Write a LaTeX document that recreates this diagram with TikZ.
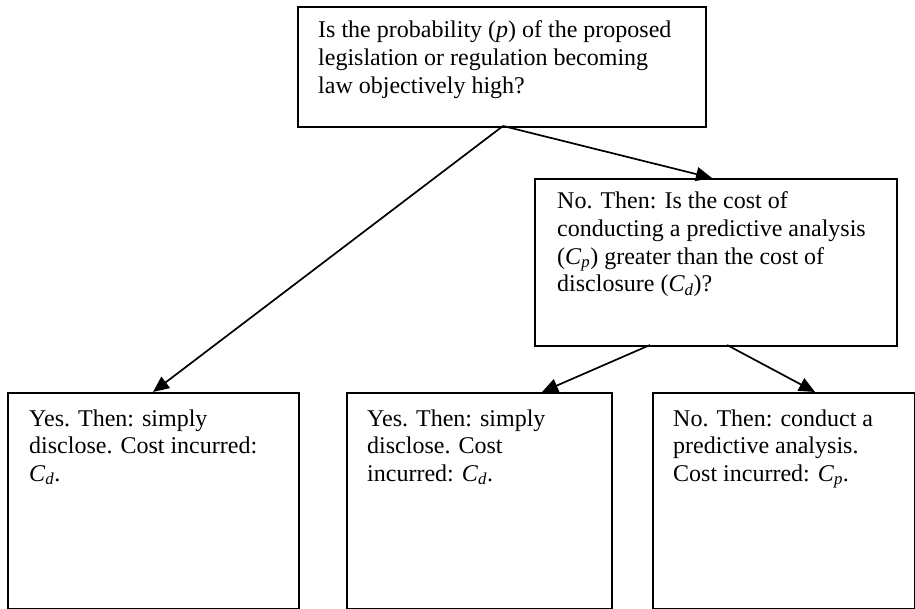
\documentclass[tikz,border=0pt]{standalone}
\usepackage{fontspec}
\setmainfont{Liberation Serif}
\usetikzlibrary{arrows.meta}
\newcommand{\Cs}[1]{\textit{C}\textsubscript{\textit{#1}}}
\newcommand{\lines}[1]{\parbox[t]{400pt}{\raggedright #1}}
\tikzset{
  dbox/.style={draw, line width=1.8pt, anchor=north west, inner sep=0pt},
  dtext/.style={anchor=base west, inner sep=0pt, font=\fontsize{24}{27.6}\selectfont},
  conn/.style={line width=1.7pt, -{Triangle[length=16pt,width=14pt]}}
}
\begin{document}
\begin{tikzpicture}[x=1pt,y=-1pt]
\useasboundingbox (0,0) rectangle (915,609);
\node[dbox, minimum width=408pt, minimum height=120pt] (A) at (297,6) {};
\node[dbox, minimum width=362pt, minimum height=167pt] (B) at (534,178) {};
\node[dbox, minimum width=291pt, minimum height=216pt] (C) at (7,392) {};
\node[dbox, minimum width=265pt, minimum height=216pt] (D) at (346,392) {};
\node[dbox, minimum width=262pt, minimum height=216pt] (E) at (652,392) {};
\node[dtext] (tA) at (318,38) {\lines{Is the probability (\textit{p}) of the proposed\\legislation or regulation becoming\\law objectively high?}};
\node[dtext] (tB) at (557,209) {\lines{No. Then: Is the cost of\\conducting a predictive analysis\\(\Cs{p}) greater than the cost of\\disclosure (\Cs{d})?}};
\node[dtext] (tC) at (29,426) {\lines{Yes. Then: simply\\disclose. Cost incurred:\\\Cs{d}.}};
\node[dtext] (tD) at (367,426) {\lines{Yes. Then: simply\\disclose. Cost\\incurred: \Cs{d}.}};
\node[dtext] (tE) at (673,426) {\lines{No. Then: conduct a\\predictive analysis.\\Cost incurred: \Cs{p}.}};
\coordinate (a1) at (503,126);
\coordinate (cT) at (153,392);
\coordinate (bT) at (712,178);
\coordinate (b1) at (650,345);
\coordinate (b2) at (727,345);
\coordinate (dT) at (542,392);
\coordinate (eT) at (815,392);
\draw[conn] (a1) -- (cT);
\draw[conn] (a1) -- (bT);
\draw[conn] (b1) -- (dT);
\draw[conn] (b2) -- (eT);
\end{tikzpicture}
\end{document}
